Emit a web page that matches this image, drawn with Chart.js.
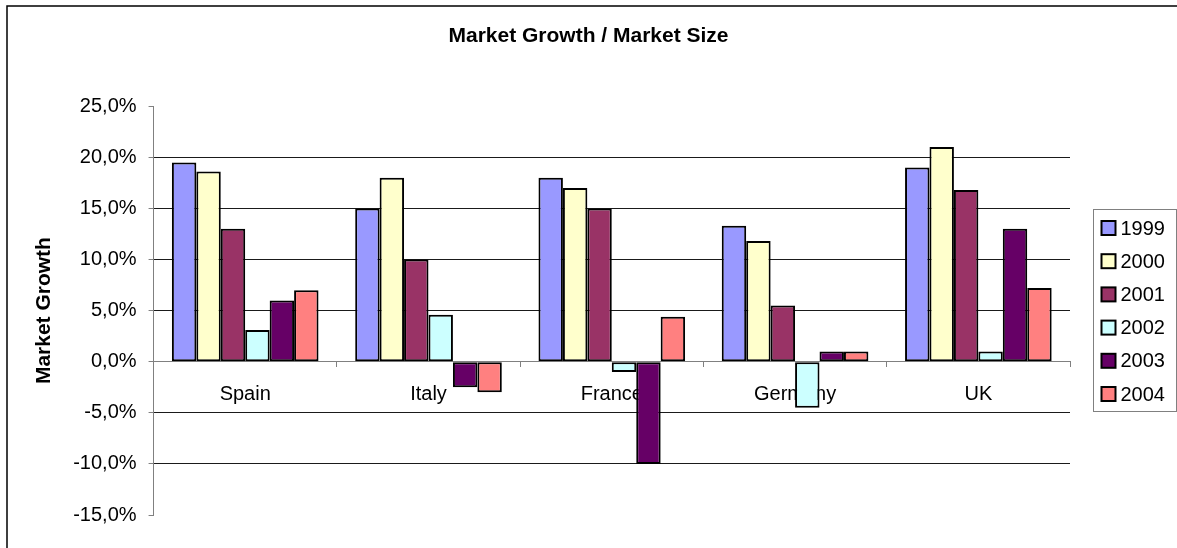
<!DOCTYPE html>
<html>
<head>
<meta charset="utf-8">
<script src="https://cdn.jsdelivr.net/npm/chart.js@4"></script>
<style>
  html, body { margin: 0; padding: 0; background: #fff; }
  #wrap { width: 1177px; height: 548px; position: relative; }
</style>
</head>
<body>
<div id="wrap"><canvas id="barChartID"></canvas></div>
<script>
  // chart data
  var countries = ["Spain", "Italy", "France", "Germany", "UK"];
  var years = ["1999", "2000", "2001", "2002", "2003", "2004"];
  var colors = ["#9999FF", "#FFFFCC", "#993366", "#CCFFFF", "#660066", "#FF8080"];
  var g1999 = [19.5, 15.0, 18.0, 13.3, 19.0];
  var g2000 = [18.6, 18.0, 17.0, 11.8, 21.0];
  var g2001 = [13.0, 10.0, 15.0, 5.5, 16.8];
  var g2002 = [3.1, 4.6, -1.0, -4.5, 1.0];
  var g2003 = [6.0, -2.5, -10.0, 1.0, 13.0];
  var g2004 = [7.0, -3.0, 4.4, 1.0, 7.2];
  var yMin = -15, yMax = 25, yStep = 5;

  var series = [g1999, g2000, g2001, g2002, g2003, g2004];
  var FONT = "'Liberation Sans', Arial, sans-serif";

  Chart.defaults.color = '#000';
  Chart.defaults.font.family = FONT;

  // outer frame + legend drawn by hand (legend needs a frame and tight spacing)
  var framePlugin = {
      id: 'frame',
      afterDraw: function (chart) {
          var c = chart.ctx;
          c.save();
          c.strokeStyle = '#000';
          c.lineWidth = 1.5;
          c.strokeRect(7, 6, chart.width + 10, chart.height + 10);

          var area = chart.chartArea;
          var lx = area.right + 23.5, ly = 209.5, lw = 83, lh = 202;
          c.lineWidth = 1;
          c.strokeStyle = '#808080';
          c.strokeRect(lx, ly, lw, lh);
          c.font = '20px ' + FONT;
          c.textBaseline = 'middle';
          c.textAlign = 'left';
          chart.data.datasets.forEach(function (ds, i) {
              var cy = 228 + i * 33.2;
              c.fillStyle = ds.backgroundColor;
              c.fillRect(lx + 8, cy - 7, 14, 14);
              c.lineWidth = 2;
              c.strokeStyle = '#000';
              c.strokeRect(lx + 8, cy - 7, 14, 14);
              c.fillStyle = '#000';
              c.fillText(ds.label, lx + 27, cy + 1);
          });
          c.restore();
      }
  };

  var ctx = document.getElementById('barChartID').getContext('2d');
  var myChart = new Chart(ctx, {
      type: 'bar',
      plugins: [framePlugin],
      data: {
          labels: countries,
          datasets: years.map(function (y, i) {
              return {
                  label: y,
                  data: series[i],
                  backgroundColor: colors[i],
                  borderColor: '#000',
                  borderWidth: 2,
                  borderSkipped: false,
                  categoryPercentage: 0.8,
                  barPercentage: 1.0
              };
          })
      },
      options: {
          responsive: true,
          maintainAspectRatio: false,
          animation: false,
          layout: { padding: { left: 0, right: 0, top: 0, bottom: 33 } },
          plugins: {
              legend: { display: false },
              tooltip: { enabled: false },
              title: {
                  display: true,
                  text: 'Market Growth / Market Size',
                  font: { size: 21, weight: 'bold', family: FONT },
                  padding: { top: 24, bottom: 57 }
              }
          },
          scales: {
              x: {
                  position: { y: 0 },
                  grid: {
                      offset: true,
                      drawOnChartArea: false,
                      drawTicks: true,
                      tickLength: 5,
                      tickColor: '#808080'
                  },
                  border: { color: '#808080', width: 1 },
                  ticks: { font: { size: 20 }, padding: 16, maxRotation: 0 }
              },
              y: {
                  min: yMin,
                  max: yMax,
                  title: {
                      display: true,
                      text: 'Market Growth',
                      font: { size: 21, weight: 'bold', family: FONT },
                      padding: { top: 32, bottom: 4 }
                  },
                  ticks: {
                      stepSize: yStep,
                      padding: 12,
                      font: { size: 20 },
                      callback: function (v) { return v.toFixed(1).replace('.', ',') + '%'; }
                  },
                  grid: {
                      tickLength: 5,
                      tickColor: '#808080',
                      color: function (c) {
                          var v = c.tick && c.tick.value;
                          if (v === yMin || v === yMax) return 'rgba(0,0,0,0)';
                          if (v === 0) return '#808080';
                          return '#1a1a1a';
                      }
                  },
                  border: { color: '#808080', width: 1 }
              },
              gap: {
                  axis: 'y',
                  type: 'linear',
                  position: 'right',
                  grid: { display: false },
                  ticks: { display: false },
                  border: { display: false },
                  afterFit: function (s) { s.width = 107; }
              }
          }
      }
  });
</script>
</body>
</html>
